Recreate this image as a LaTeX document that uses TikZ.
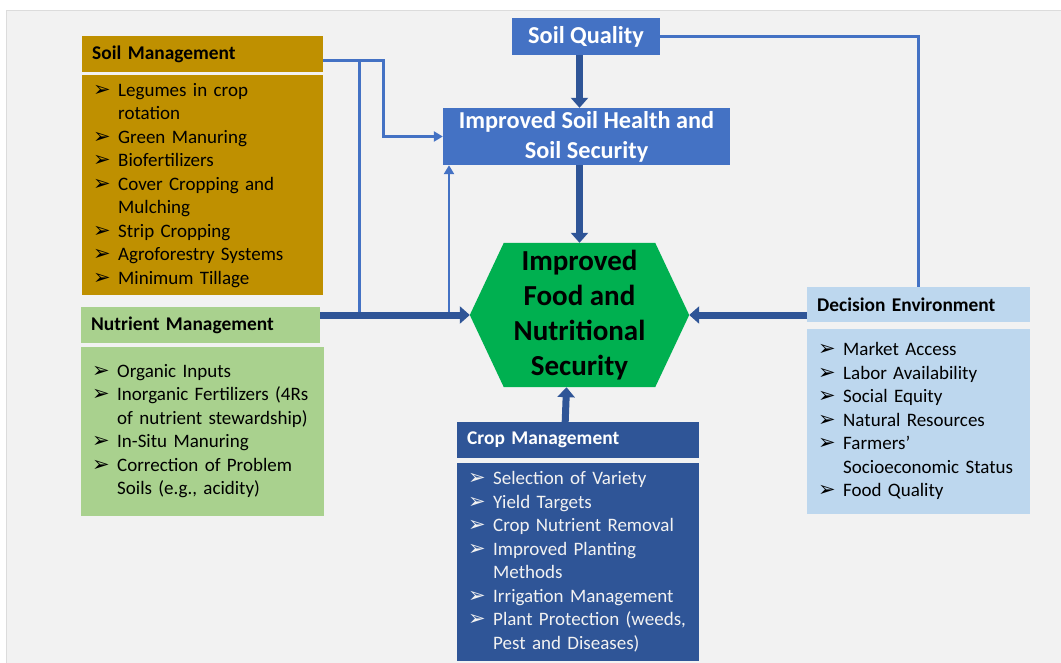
\documentclass[tikz,border=0pt]{standalone}
\usepackage{fontspec}
\setmainfont{Carlito}
\newfontfamily\simbolos{DejaVu Sans}
\usetikzlibrary{arrows.meta,positioning,calc,backgrounds}
\definecolor{Fondo}{HTML}{F2F2F2}
\definecolor{Marco}{HTML}{DCDCDC}
\definecolor{Oro}{HTML}{BF9000}
\definecolor{VerdeClaro}{HTML}{A9D18E}
\definecolor{AzulClaro}{HTML}{BDD7EE}
\definecolor{AzulMedio}{HTML}{4472C4}
\definecolor{AzulOscuro}{HTML}{2F5597}
\definecolor{Verde}{HTML}{00B050}
% punto de lista con flecha, cada punto es un parrafo con sangria colgante
\newcommand{\vineta}[1]{\hyphenpenalty=10000\noindent\hangindent=26pt\hangafter=1\makebox[26pt][l]{\hspace{1pt}{\simbolos\fontsize{21}{21}\selectfont ➢}}#1\par}

\begin{document}
\begin{tikzpicture}[x=1pt,y=-1pt,
        encabezado/.style={anchor=north west,text width=221pt,minimum height=36pt,inner xsep=10pt,inner ysep=0pt,align=left,font=\bfseries\fontsize{19.4}{22}\selectfont},
        cuerpo/.style={text width=222pt,inner xsep=10pt,inner ysep=0pt,align=left,font=\fontsize{19}{23.5}\selectfont},
        caja/.style={fill=AzulMedio,text=white,align=center,inner sep=0pt,font=\bfseries\fontsize{24.3}{30}\selectfont},
        linea/.style={draw=AzulMedio,line width=2.6pt},
        puntafina/.style={-{Triangle[width=10pt,length=9pt]}},
        flecha/.style={draw=AzulOscuro,line width=7pt,-{Triangle[width=17pt,length=10pt]}}]
  \useasboundingbox (0,0) rectangle (1061,662);
  \begin{scope}[on background layer]
    \fill[white] (0,0) rectangle (1061,662);
    \filldraw[fill=Fondo,draw=Marco,line width=1pt] (6,10) rectangle (1070,670);
  \end{scope}

  % objetivo central
  \node[minimum width=219pt,minimum height=144pt,inner sep=0pt,align=center,font=\bfseries\fontsize{29}{35}\selectfont] (seguridad) at (579.5,315) {Improved\\Food and\\Nutritional\\Security};
  \begin{scope}[on background layer]
    \fill[Verde] (seguridad.west) -- ($(seguridad.north west)+(34,0)$) -- ($(seguridad.north east)+(-34,0)$) -- (seguridad.east)
      -- ($(seguridad.south east)+(-34,0)$) -- ($(seguridad.south west)+(34,0)$) -- cycle;
  \end{scope}

  \node[caja,minimum width=148pt,minimum height=37pt] (calidad) at (586,36.5) {Soil Quality};
  \node[caja,minimum width=287pt,minimum height=57pt] (salud) at (586.5,136.5) {Improved Soil Health and\\Soil Security};

  % manejo del suelo
  \node[encabezado,fill=Oro] (encSuelo) at (82,36) {Soil Management};
  \node[cuerpo,fill=Oro,text width=221pt,minimum height=220pt,below=2.5pt of encSuelo] (suelo) {%
    \vineta{Legumes in crop\newline rotation}
    \vineta{Green Manuring}
    \vineta{Biofertilizers}
    \vineta{Cover Cropping and\newline Mulching}
    \vineta{Strip Cropping}
    \vineta{Agroforestry~Systems}
    \vineta{Minimum Tillage}};

  % manejo de nutrientes
  \node[encabezado,fill=VerdeClaro,text width=219pt] (encNutri) at (81,307) {Nutrient Management};
  \node[cuerpo,fill=VerdeClaro,text width=223pt,minimum height=169pt,anchor=north west] (nutri) at ($(encNutri.south west)+(0,3)$) {%
    \vineta{Organic Inputs}
    \vineta{Inorganic~Fertilizers~(4Rs\newline of nutrient~stewardship)}
    \vineta{In-Situ Manuring}
    \vineta{Correction of Problem\newline Soils (e.g., acidity)}};

  % manejo del cultivo
  \node[encabezado,fill=AzulOscuro,text=white,text width=222pt] (encCultivo) at (457,422) {Crop Management};
  \node[cuerpo,fill=AzulOscuro,text=Fondo,minimum height=198pt,below=4pt of encCultivo] (cultivo) {%
    \vineta{Selection of Variety}
    \vineta{Yield Targets}
    \vineta{Crop Nutrient Removal}
    \vineta{Improved Planting\newline Methods}
    \vineta{Irrigation~Management}
    \vineta{Plant~Protection~(weeds,\newline Pest and Diseases)}};

  % entorno de decision
  \node[encabezado,fill=AzulClaro,text width=203pt,minimum height=35pt] (encDecision) at (807,287) {Decision Environment};
  \node[cuerpo,fill=AzulClaro,text width=203pt,minimum height=185pt,below=6pt of encDecision] (decision) {%
    \vineta{Market Access}
    \vineta{Labor Availability}
    \vineta{Social Equity}
    \vineta{Natural Resources}
    \vineta{Farmers’\newline Socioeconomic~Status}
    \vineta{Food Quality}};

  % conexiones finas
  \coordinate (nudo) at ($(encSuelo.east)+(36,6)$);
  \coordinate (sube) at (449,313);
  \draw[linea,puntafina] ([yshift=-6pt]encSuelo.east) -- ++(60,0) |- (salud.west);
  \draw[linea] (nudo) -- (nudo |- seguridad.west);
  \draw[linea,puntafina] (sube) -- (sube |- salud.south);
  \draw[linea] (calidad.east) -| (encDecision.north);

  % flechas gruesas
  \draw[flecha] (calidad.south -| seguridad.north) -- (salud.north -| seguridad.north);
  \draw[flecha] (salud.south -| seguridad.north) -- (seguridad.north);
  \draw[flecha] (encNutri.east |- seguridad.west) -- (seguridad.west);
  \draw[flecha] (encDecision.west |- seguridad.east) -- (seguridad.east);
  \draw[flecha] ([xshift=-13pt]encCultivo.north) -- ([xshift=-13pt]seguridad.south);
\end{tikzpicture}
\end{document}
